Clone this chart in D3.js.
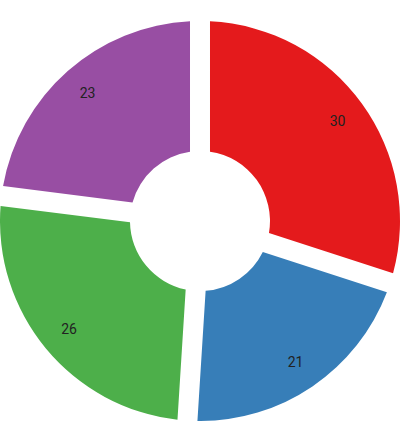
<!DOCTYPE html>
<html>
<head>
<meta charset="utf-8">
<script src="https://cdn.jsdelivr.net/npm/d3@7"></script>
<style>
  body { margin: 0; background: #fff; }
  svg { display: block; }
</style>
</head>
<body>
<svg width="400" height="421"></svg>
<script>
var labels = ["A", "B", "C", "D"];
var values = [30, 21, 26, 23];
var colors = ["#e41a1c", "#377eb8", "#4daf4a", "#984ea3"];

var svg = d3.select("svg"),
    width = +svg.attr("width"),
    height = +svg.attr("height");

var outer = 200, inner = 70;

var g = svg.append("g")
    .attr("transform", "translate(" + (width / 2) + "," + 221 + ")");

var color = d3.scaleOrdinal().domain(labels).range(colors);

var pie = d3.pie()
    .sort(null)
    .value(function(d, i) { return values[i]; });

var arc = d3.arc()
    .innerRadius(inner)
    .outerRadius(outer)
    .padAngle(0.1)
    .padRadius(outer);

var labelArc = d3.arc()
    .innerRadius(140)
    .outerRadius(200);

var arcs = pie(labels);

g.selectAll(".slice").data(arcs)
  .enter().append("path")
    .attr("class", "slice")
    .attr("d", arc)
    .attr("fill", function(d) { return color(d.data); });

g.selectAll(".label").data(arcs)
  .enter().append("text")
    .attr("class", "label")
    .attr("transform", function(d) { return "translate(" + labelArc.centroid(d) + ")"; })
    .attr("dy", "0.35em")
    .style("text-anchor", "middle")
    .style("font-family", "Roboto, Arial, sans-serif")
    .style("font-size", "14px")
    .style("fill", "#222")
    .text(function(d) { return d.value; });
</script>
</body>
</html>
